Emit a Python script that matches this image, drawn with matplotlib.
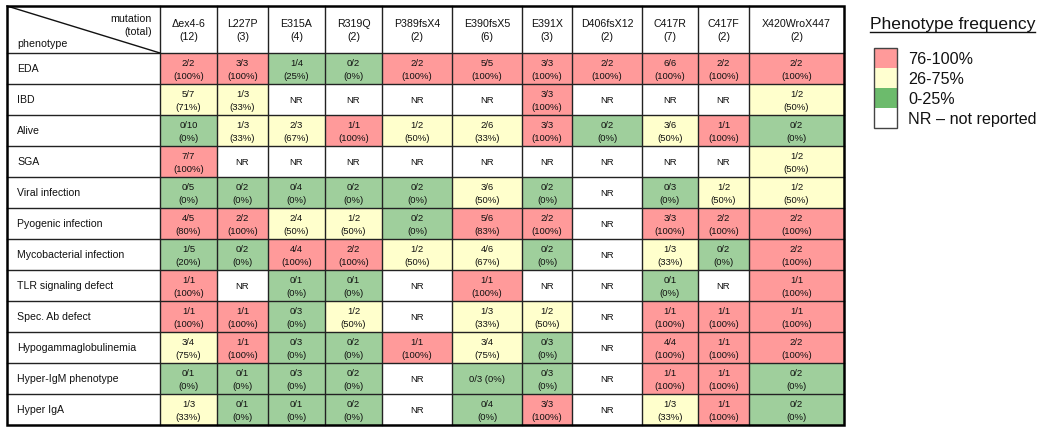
import matplotlib
matplotlib.use("Agg")
import matplotlib.pyplot as plt
from matplotlib.patches import Rectangle

plt.rcParams["font.family"] = ["Liberation Sans", "DejaVu Sans"]

mutations = ["\u0394ex4-6", "L227P", "E315A", "R319Q", "P389fsX4", "E390fsX5",
             "E391X", "D406fsX12", "C417R", "C417F", "X420WroX447"]
totals = [12, 3, 4, 2, 2, 6, 3, 2, 7, 2, 2]

phenotypes = ["EDA", "IBD", "Alive", "SGA", "Viral infection", "Pyogenic infection",
              "Mycobacterial infection", "TLR signaling defect", "Spec. Ab defect",
              "Hypogammaglobulinemia", "Hyper-IgM phenotype", "Hyper IgA"]

# "n/N" per cell, None = not reported
values = [
    ["2/2", "3/3", "1/4", "0/2", "2/2", "5/5", "3/3", "2/2", "6/6", "2/2", "2/2"],
    ["5/7", "1/3", None, None, None, None, "3/3", None, None, None, "1/2"],
    ["0/10", "1/3", "2/3", "1/1", "1/2", "2/6", "3/3", "0/2", "3/6", "1/1", "0/2"],
    ["7/7", None, None, None, None, None, None, None, None, None, "1/2"],
    ["0/5", "0/2", "0/4", "0/2", "0/2", "3/6", "0/2", None, "0/3", "1/2", "1/2"],
    ["4/5", "2/2", "2/4", "1/2", "0/2", "5/6", "2/2", None, "3/3", "2/2", "2/2"],
    ["1/5", "0/2", "4/4", "2/2", "1/2", "4/6", "0/2", None, "1/3", "0/2", "2/2"],
    ["1/1", None, "0/1", "0/1", None, "1/1", None, None, "0/1", None, "1/1"],
    ["1/1", "1/1", "0/3", "1/2", None, "1/3", "1/2", None, "1/1", "1/1", "1/1"],
    ["3/4", "1/1", "0/3", "0/2", "1/1", "3/4", "0/3", None, "4/4", "1/1", "2/2"],
    ["0/1", "0/1", "0/3", "0/2", None, "0/3", "0/3", None, "1/1", "1/1", "0/2"],
    ["1/3", "0/1", "0/1", "0/2", None, "0/4", "3/3", None, "1/3", "1/1", "0/2"],
]
one_line_cells = [(10, 5)]  # printed as "0/3 (0%)" on a single line

legend_labels = ["76-100%", "26-75%", "0-25%", "NR \u2013 not reported"]

RED, YELLOW, GREEN, WHITE = "#ff9a9a", "#ffffcc", "#9fcf9c", "#ffffff"
LEG_COLORS = ["#ff9a9a", "#ffffd0", "#6cbb6c", "#ffffff"]


def cell_color(pct):
    if pct is None:
        return WHITE
    if pct >= 76:
        return RED
    if pct >= 26:
        return YELLOW
    return GREEN


fig = plt.figure(figsize=(10.5, 4.39), dpi=100)
ax = fig.add_axes([0, 0, 1, 1])
ax.set_xlim(0, 1050)
ax.set_ylim(439, 0)
ax.axis("off")

# layout (pixels)
col_edges = [7, 160, 217, 268, 325, 382, 452, 522, 572, 642, 698, 749, 844]
top, head_h, row_h = 7, 47, 31
row_edges = [top, top + head_h] + [top + head_h + row_h * (i + 1) for i in range(len(phenotypes))]
cell_fs, head_fs, lab_fs = 6.8, 7.7, 7.6

# cells
for i, row in enumerate(values):
    y0, y1 = row_edges[i + 1], row_edges[i + 2]
    yc = (y0 + y1) / 2
    for j, v in enumerate(row):
        x0, x1 = col_edges[j + 1], col_edges[j + 2]
        xc = (x0 + x1) / 2
        if v is None:
            pct = None
        else:
            n, d = v.split("/")
            pct = round(100 * int(n) / int(d))
        ax.add_patch(Rectangle((x0, y0), x1 - x0, y1 - y0, facecolor=cell_color(pct),
                               edgecolor="none", zorder=1))
        if v is None:
            ax.text(xc, yc, "NR", ha="center", va="center", fontsize=cell_fs, color="#111111")
        elif (i, j) in one_line_cells:
            ax.text(xc, yc, f"{v} ({pct}%)", ha="center", va="center", fontsize=cell_fs, color="#111111")
        else:
            ax.text(xc, yc - 6.3, v, ha="center", va="center", fontsize=cell_fs, color="#111111")
            ax.text(xc, yc + 6.6, f"({pct}%)", ha="center", va="center", fontsize=cell_fs, color="#111111")
    ax.text(col_edges[0] + 10, yc, phenotypes[i], ha="left", va="center", fontsize=lab_fs, color="#111111")

# header
hc = (row_edges[0] + row_edges[1]) / 2
for j, (m, t) in enumerate(zip(mutations, totals)):
    xc = (col_edges[j + 1] + col_edges[j + 2]) / 2
    ax.text(xc, hc - 6.5, m, ha="center", va="center", fontsize=head_fs, color="#111111")
    ax.text(xc, hc + 7, f"({t})", ha="center", va="center", fontsize=head_fs, color="#111111")
ax.text(col_edges[1] - 8, row_edges[0] + 12, "mutation", ha="right", va="center", fontsize=head_fs, color="#111111")
ax.text(col_edges[1] - 8, row_edges[0] + 25, "(total)", ha="right", va="center", fontsize=head_fs, color="#111111")
ax.text(col_edges[0] + 10, row_edges[0] + 37, "phenotype", ha="left", va="center", fontsize=head_fs, color="#111111")
ax.plot([col_edges[0], col_edges[1]], [row_edges[0], row_edges[1]], color="#111111", lw=1.0, zorder=3)

# grid lines
for x in col_edges[1:-1]:
    ax.plot([x, x], [row_edges[0], row_edges[-1]], color="#222222", lw=1.0, zorder=2)
for y in row_edges[1:-1]:
    ax.plot([col_edges[0], col_edges[-1]], [y, y], color="#222222", lw=1.0, zorder=2)
ax.add_patch(Rectangle((col_edges[0], row_edges[0]), col_edges[-1] - col_edges[0],
                       row_edges[-1] - row_edges[0], facecolor="none", edgecolor="black",
                       lw=1.8, zorder=4))

# legend
lx, ly, lw_, lh = 874, 49, 23, 20
title = ax.text(lx - 4, 25, "Phenotype frequency", ha="left", va="center", fontsize=12.6, color="#111111")
for k, (lab, c) in enumerate(zip(legend_labels, LEG_COLORS)):
    ax.add_patch(Rectangle((lx, ly + k * lh), lw_, lh, facecolor=c, edgecolor="none", zorder=1))
    ax.text(lx + 34, ly + k * lh + lh / 2 + 1, lab, ha="left", va="center", fontsize=11.6, color="#111111")
ax.add_patch(Rectangle((lx, ly), lw_, lh * len(legend_labels), facecolor="none",
                       edgecolor="#444444", lw=1.0, zorder=2))

fig.canvas.draw()
bb = title.get_window_extent().transformed(ax.transData.inverted())
ax.plot([bb.x0, bb.x1], [32.5, 32.5], color="#111111", lw=1.0)

fig.savefig("out.png", dpi=100)
